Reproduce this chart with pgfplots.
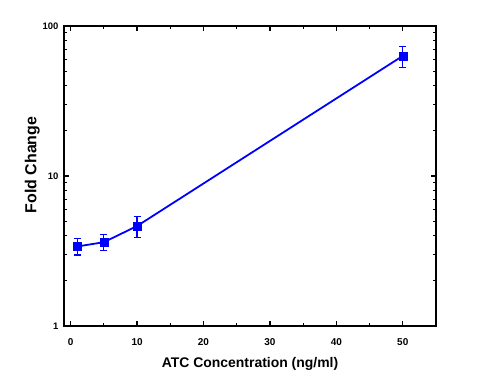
\documentclass[border=0pt]{standalone}
\usepackage{pgfplots}
\pgfplotsset{compat=1.18}
\usepackage{fontspec}
\setmainfont{Liberation Sans}
\begin{document}
\begin{tikzpicture}
\begin{axis}[
  at={(0,0)}, anchor=south west,
  scale only axis, width=372bp, height=300bp,
  xmin=-1, xmax=55, ymin=1, ymax=100,
  ymode=log,
  xtick={0,10,20,30,40,50},
  minor xtick={5,15,25,35,45},
  ytick={1,10,100},
  yticklabels={1,10,100},
  log ticks with fixed point,
  tick align=inside,
  major tick length=5bp, minor tick length=3bp,
  axis line style={line width=1.6pt},
  every tick/.style={black, line width=1.2pt},
  xticklabel style={font=\bfseries\fontsize{10}{11}\selectfont, yshift=-9bp},
  yticklabel style={font=\bfseries\fontsize{9.5}{11}\selectfont, xshift=-2bp},
  /pgf/number format/assume math mode=true,
  xlabel={\bfseries ATC Concentration (ng/ml)},
  ylabel={\bfseries Fold Change},
  xlabel style={font=\bfseries\fontsize{14}{16}\selectfont, yshift=-5bp},
  ylabel style={font=\bfseries\fontsize{16}{18}\selectfont, yshift=-4bp, xshift=11bp},
  error bars/error bar style={blue, line width=1.2pt},
  error bars/error mark options={blue, rotate=90, mark size=3.5bp, line width=1.2pt},
]
\addplot[blue, line width=1.8pt, mark=square*, mark size=4bp, mark options={blue, line width=0.5pt},
  error bars/.cd, y dir=both, y explicit]
  coordinates {
  (1,3.39) +- (0,0.42)
  (5,3.62) +- (0,0.43)
  (10,4.64) +- (0,0.75)
  (50,63.2) +- (0,10.2)
  };
\end{axis}
\useasboundingbox (-64bp,-50bp) rectangle (414bp,326bp);
\end{tikzpicture}
\end{document}
